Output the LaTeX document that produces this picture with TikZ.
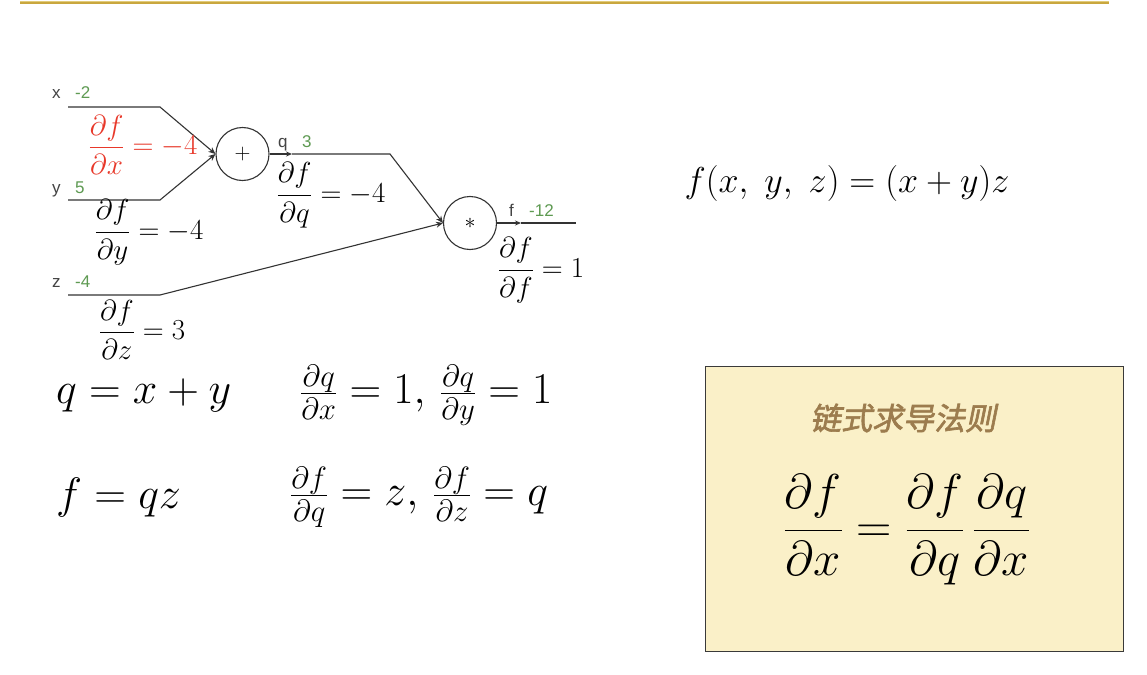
\RequirePackage{fix-cm}
\documentclass[tikz,border=0pt]{standalone}
\usepackage{fontspec}
\usetikzlibrary{arrows.meta}
\newfontfamily\labfont{Liberation Sans}
\newfontfamily\cjkfont[FakeSlant=0.2,FakeBold=2]{Noto Sans CJK SC}
\definecolor{gold}{HTML}{C9A73E}
\definecolor{gold2}{HTML}{E2CB7A}
\definecolor{lab}{HTML}{444444}
\definecolor{num}{HTML}{5E9A52}
\definecolor{wire}{HTML}{333333}
\definecolor{gradred}{HTML}{E8382A}
\definecolor{boxfill}{HTML}{FAF0C8}
\definecolor{boxline}{HTML}{3A3A3A}
\definecolor{titlebrown}{HTML}{9C7C4E}
\tikzset{
  wirestyle/.style={draw=wire, line width=1.1pt},
  arr/.style={-{Stealth[length=7pt,width=6pt]}},
  gate/.style={circle, draw=wire, line width=1.1pt, minimum size=53pt, inner sep=0pt, font=\fontsize{22}{22}\selectfont},
  varlab/.style={font=\labfont\fontsize{17}{17}\selectfont, text=lab, inner sep=0pt, anchor=base west},
  numlab/.style={font=\labfont\fontsize{17}{17}\selectfont, text=num, inner sep=0pt, anchor=base west},
  grad/.style={font=\fontsize{29}{29}\selectfont, inner sep=0pt},
  eqn/.style={font=\fontsize{44}{44}\selectfont, inner sep=0pt},
}
\begin{document}
\begin{tikzpicture}[x=1pt,y=-1pt]
\useasboundingbox (0,0) rectangle (1147,674);
\fill[white] (0,0) rectangle (1147,674);
% top rule
\draw[gold, line width=3pt] (20,3) -- (1109,3);
\draw[gold2, line width=0.8pt] (20,1.2) -- (1109,1.2);

% gates
\node[gate] (plus) at (242.5,154) {$+$};
\node[gate] (mul) at (470,223) {$*$};

% input wires
\coordinate (x0) at (68,107);
\coordinate (x1) at (160,107);
\coordinate (y0) at (68,200);
\coordinate (y1) at (160,200);
\coordinate (z0) at (68,295);
\coordinate (z1) at (160,295);
\draw[wirestyle, arr] (x0) -- (x1) -- (plus.west);
\draw[wirestyle, arr] (y0) -- (y1) -- (plus.west);
\draw[wirestyle, arr] (z0) -- (z1) -- (mul.west);

% q wire
\coordinate (qa) at (292,154);
\coordinate (q1) at (390,154);
\draw[wirestyle, -{Stealth[length=6pt,width=5pt]}] (plus.east) -- (qa);
\draw[wirestyle, arr] (qa) -- (q1) -- (mul.west);

% f wire
\coordinate (fa) at (521,223);
\coordinate (f1) at (576,223);
\draw[wirestyle, -{Stealth[length=6pt,width=5pt]}] (mul.east) -- (fa);
\draw[wirestyle] (fa) -- (f1);

% variable labels
\node[varlab] (lx) at (52,99) {x};
\node[numlab] (nx) at (75,99) {-2};
\node[varlab] (ly) at (52,193) {y};
\node[numlab] (ny) at (75,193) {5};
\node[varlab] (lz) at (52,287) {z};
\node[numlab] (nz) at (75,287) {-4};
\node[varlab] (lq) at (278,147) {q};
\node[numlab] (nq) at (302,147) {3};
\node[varlab] (lf) at (509,216) {f};
\node[numlab] (nf) at (529,216) {-12};

% gradients
\node[grad, text=gradred] (gx) at (143,145) {$\displaystyle\frac{\partial f}{\partial x}=-4$};
\node[grad] (gy) at (149,232) {$\displaystyle\frac{\partial f}{\partial y}=-4$};
\node[grad] (gq) at (331,195) {$\displaystyle\frac{\partial f}{\partial q}=-4$};
\node[grad] (gf) at (541,270) {$\displaystyle\frac{\partial f}{\partial f}=1$};
\node[grad] (gz) at (142,330) {$\displaystyle\frac{\partial f}{\partial z}=3$};

% lower equations
\node[eqn, anchor=west] (e1) at (56,395) {$q=x+y$};
\node[eqn, anchor=west] (e2) at (300,395) {$\frac{\partial q}{\partial x}=1,\,\frac{\partial q}{\partial y}=1$};
\node[eqn, anchor=west] (e3) at (56,497) {$f=qz$};
\node[eqn, anchor=west] (e4) at (290,497) {$\frac{\partial f}{\partial q}=z,\,\frac{\partial f}{\partial z}=q$};

% function
\node[font=\fontsize{36}{36}\selectfont, inner sep=0pt] (fxyz) at (847,183) {$f(x,\;y,\;z)=(x+y)z$};

% chain rule box
\node[draw=boxline, fill=boxfill, line width=1pt, minimum width=418pt, minimum height=285pt, inner sep=0pt] (box) at (914,508.5) {};
\node[font=\cjkfont\fontsize{31}{31}\selectfont, text=titlebrown, inner sep=0pt] (title) at (903,418) {链式求导法则};
\node[font=\fontsize{49}{49}\selectfont, inner sep=0pt] (chain) at (907,530) {$\displaystyle\frac{\partial f}{\partial x}=\frac{\partial f}{\partial q}\,\frac{\partial q}{\partial x}$};
\end{tikzpicture}
\end{document}
